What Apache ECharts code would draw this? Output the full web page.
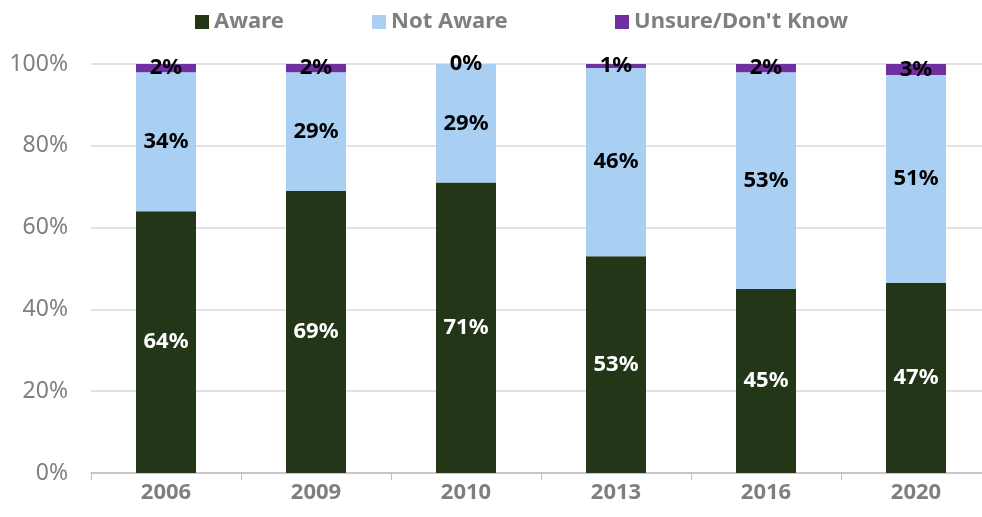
<!DOCTYPE html>
<html><head><meta charset="utf-8">
<script src="https://cdn.jsdelivr.net/npm/echarts@6/dist/echarts.min.js"></script>
<style>html,body{margin:0;padding:0;background:#fff;overflow:hidden}#c{width:1000px;height:517px}</style>
</head><body><div id="c"></div>
<script>
const categories = ['2006','2009','2010','2013','2016','2020'];
const aware = [64, 69, 71, 53, 45, 46.5];
const notAware = [34, 29, 29, 46, 53, 50.8];
const unsure = [2, 2, 0, 1, 2, 2.7];
const yTicks = [0, 20, 40, 60, 80, 100];
const seriesNames = ['Aware', 'Not Aware', 'Unsure/Don\'t Know'];

const FONT = '"Noto Sans", sans-serif';
const chart = echarts.init(document.getElementById('c'));
const lbl = (color) => ({
  show: true, position: 'inside', color: color, fontFamily: FONT, fontWeight: 'bold', fontSize: 22,
  formatter: p => Math.round(p.value) + '%'
});
const legendLeft = [190, 367, 610];
chart.setOption({
  animation: false,
  textStyle: {fontFamily: FONT},
  legend: seriesNames.map((n, i) => ({
    top: 6, left: legendLeft[i], itemWidth: 14, itemHeight: 14, itemGap: 10,
    icon: 'rect',
    textStyle: {color: '#7f7f7f', fontSize: 22, fontWeight: 'bold', fontFamily: FONT},
    data: [n]
  })),
  grid: {left: 91, top: 64, width: 900, height: 409, containLabel: false},
  xAxis: {
    type: 'category', data: categories,
    axisLine: {lineStyle: {color: '#bfbfbf', width: 1.5}},
    axisTick: {show: true, length: 7, lineStyle: {color: '#bfbfbf'}},
    axisLabel: {color: '#7f7f7f', fontSize: 22, fontWeight: 'bold', fontFamily: FONT, margin: 9}
  },
  yAxis: {
    type: 'value', min: 0, max: 100, interval: 20,
    axisLine: {show: false}, axisTick: {show: false},
    splitLine: {lineStyle: {color: '#d9d9d9', width: 1.5}},
    axisLabel: {color: '#7f7f7f', fontSize: 23, fontFamily: FONT, margin: 23,
      formatter: v => yTicks.includes(v) ? v + '%' : ''}
  },
  series: [
    {name: seriesNames[0], type: 'bar', stack: 's', data: aware, barWidth: 60,
      itemStyle: {color: '#233618'}, label: lbl('#ffffff')},
    {name: seriesNames[1], type: 'bar', stack: 's', data: notAware, barWidth: 60,
      itemStyle: {color: '#a9cff3'}, label: lbl('#000000')},
    {name: seriesNames[2], type: 'bar', stack: 's', data: unsure, barWidth: 60,
      itemStyle: {color: '#7030a0'}, label: lbl('#000000')}
  ]
});
</script></body></html>
